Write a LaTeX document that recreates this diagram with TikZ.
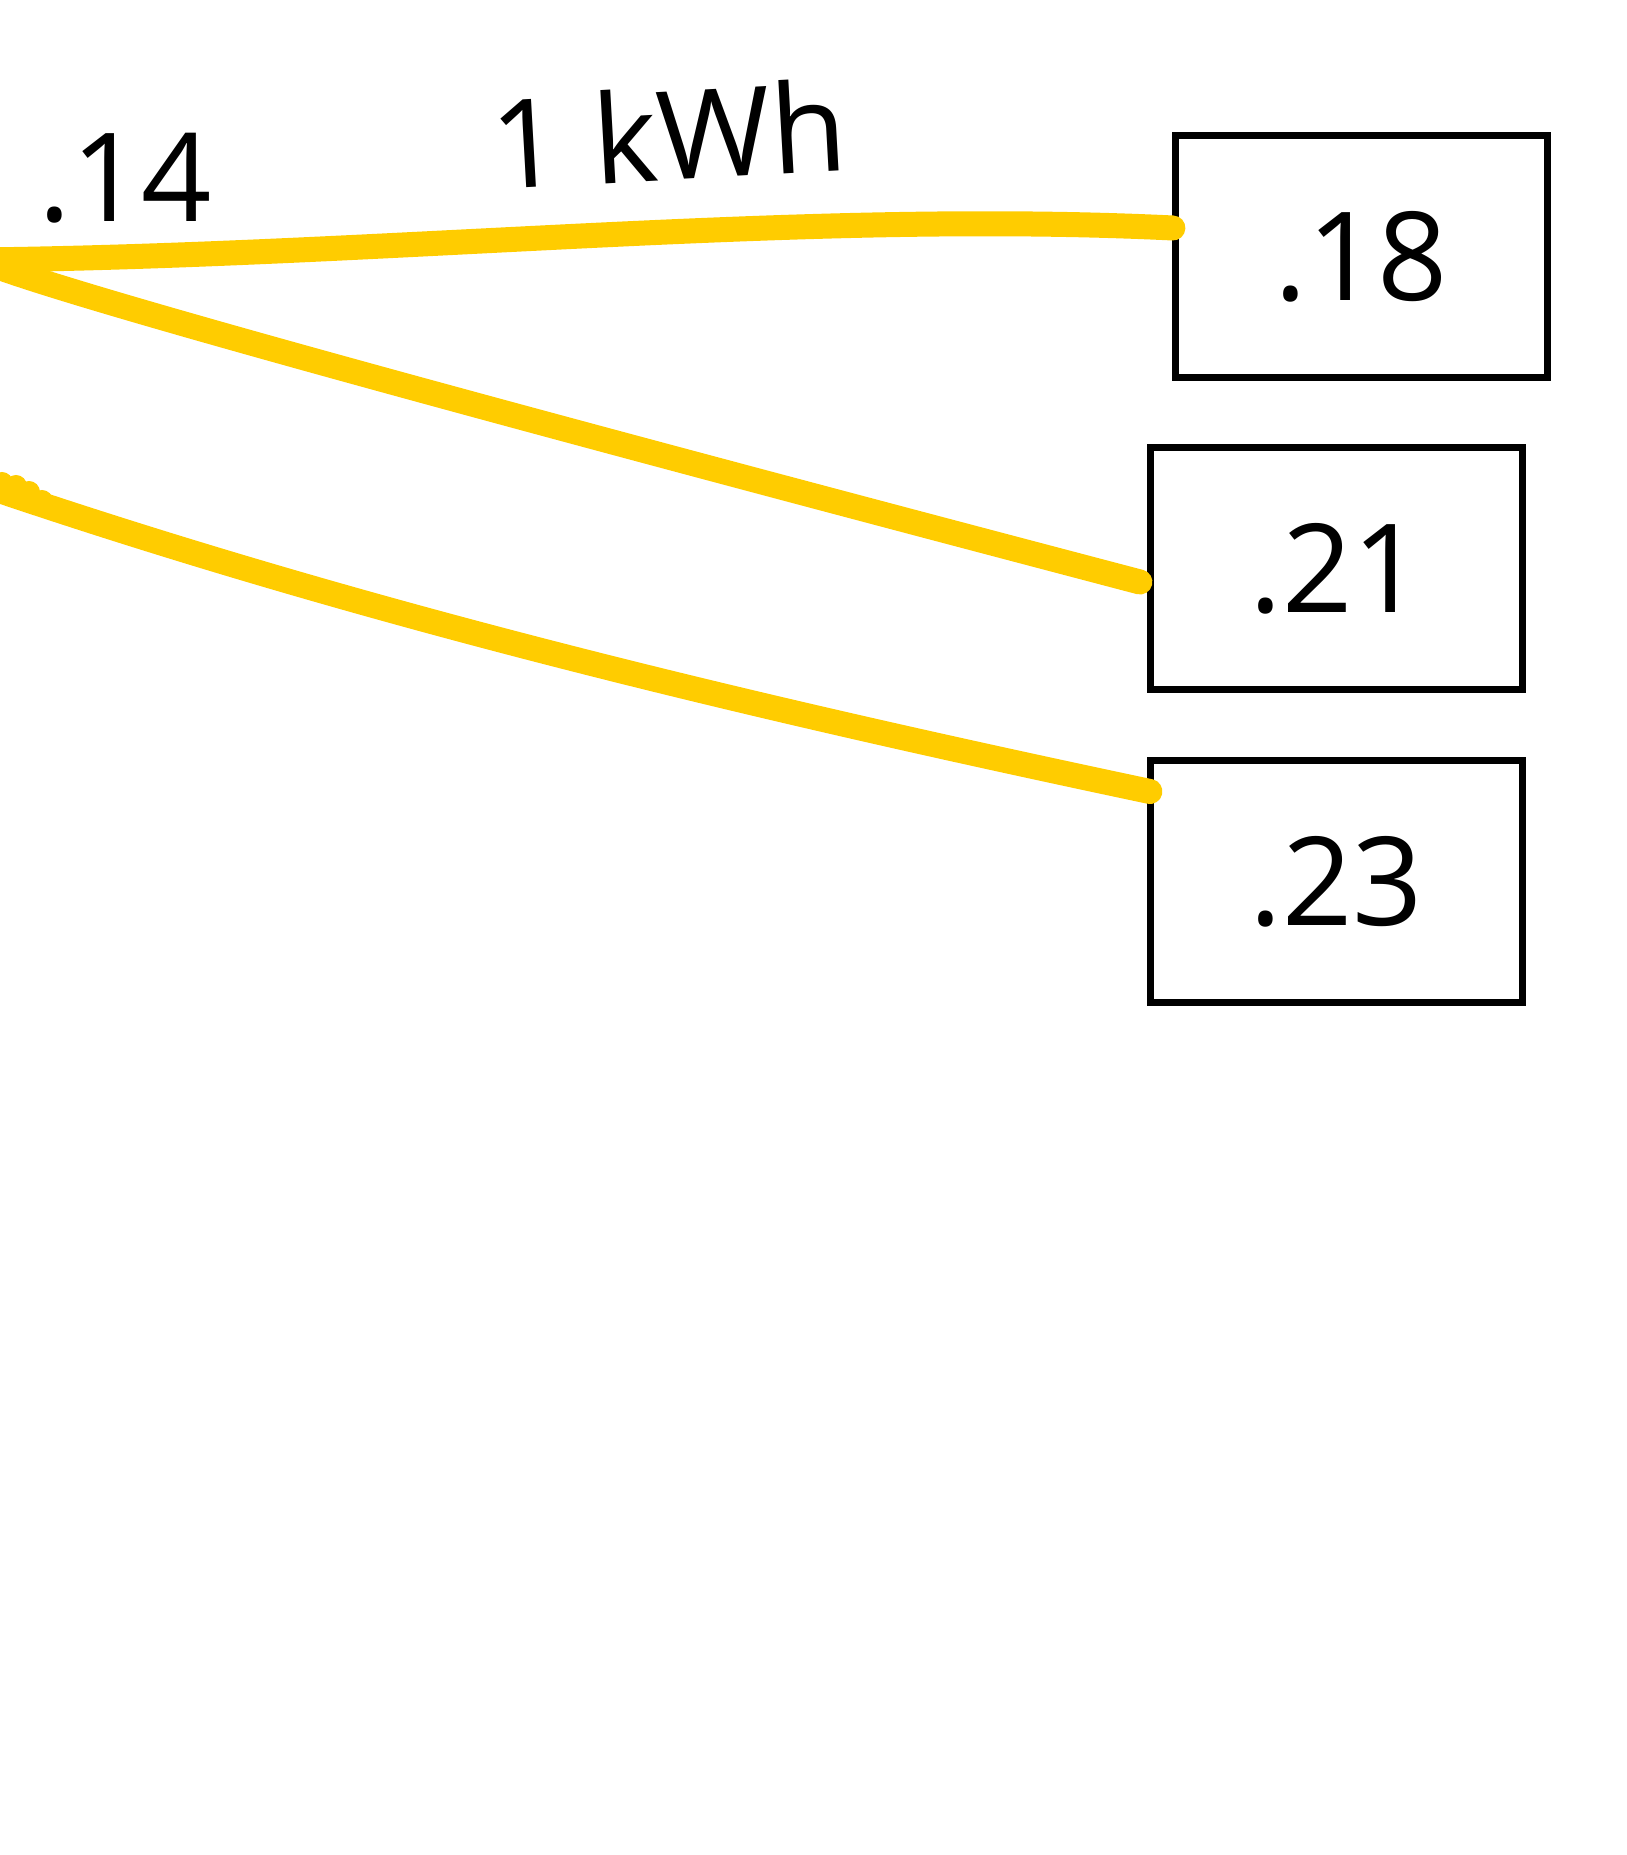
\documentclass[tikz,border=0pt]{standalone}
\usepackage{fontspec}
\setmainfont{Open Sans}
\usepackage{tikz}
\usetikzlibrary{calc, positioning}
\definecolor{wireyellow}{RGB}{255,204,0}

\begin{document}
\begin{tikzpicture}[x=0.01cm, y=-0.01cm]
\tikzset{price/.style={draw, line width=0.07cm, minimum width=3.72cm, minimum height=2.42cm, inner sep=0pt, font=\fontsize{35}{42}\selectfont},
  label/.style={font=\fontsize{35}{42}\selectfont, inner sep=0pt},
  wire/.style={draw=wireyellow, line width=0.25cm, line cap=round}}
  \useasboundingbox (0,0) rectangle (1626,1855);

  \node [price] (B18) at (1361.5,256.5) {.18};
  \node [price] (B21) at (1336.5,568.5) {.21};
  \node [price] (B23) at (1336.5,881.5) {.23};

  \node [label, anchor=base west] (L14) at (38,222) {.14};
  \node [label, anchor=base, rotate=3.2] (Lkwh) at (671,180) {1 kWh};

  % sources lie just off the page
  \coordinate (S1) at (-20,260);
  \coordinate (S2) at (-20,484);

  \draw [wire] (S1) .. controls (400,255) and (800,210) .. ($(B18.west)+(1,-28.5)$);
  \draw [wire] (S1) .. controls (60,295) and (600,440) .. ($(B21.west)+(-7,13.5)$);
  \draw [wire] (S2) .. controls (370,617) and (760,709) .. ($(B23.west)+(3,-90)$);
  \foreach \x/\y in {2/483, 16/486, 29/492, 42/501}
    \fill [wireyellow] (\x,\y) circle (0.11cm);
\end{tikzpicture}
\end{document}
